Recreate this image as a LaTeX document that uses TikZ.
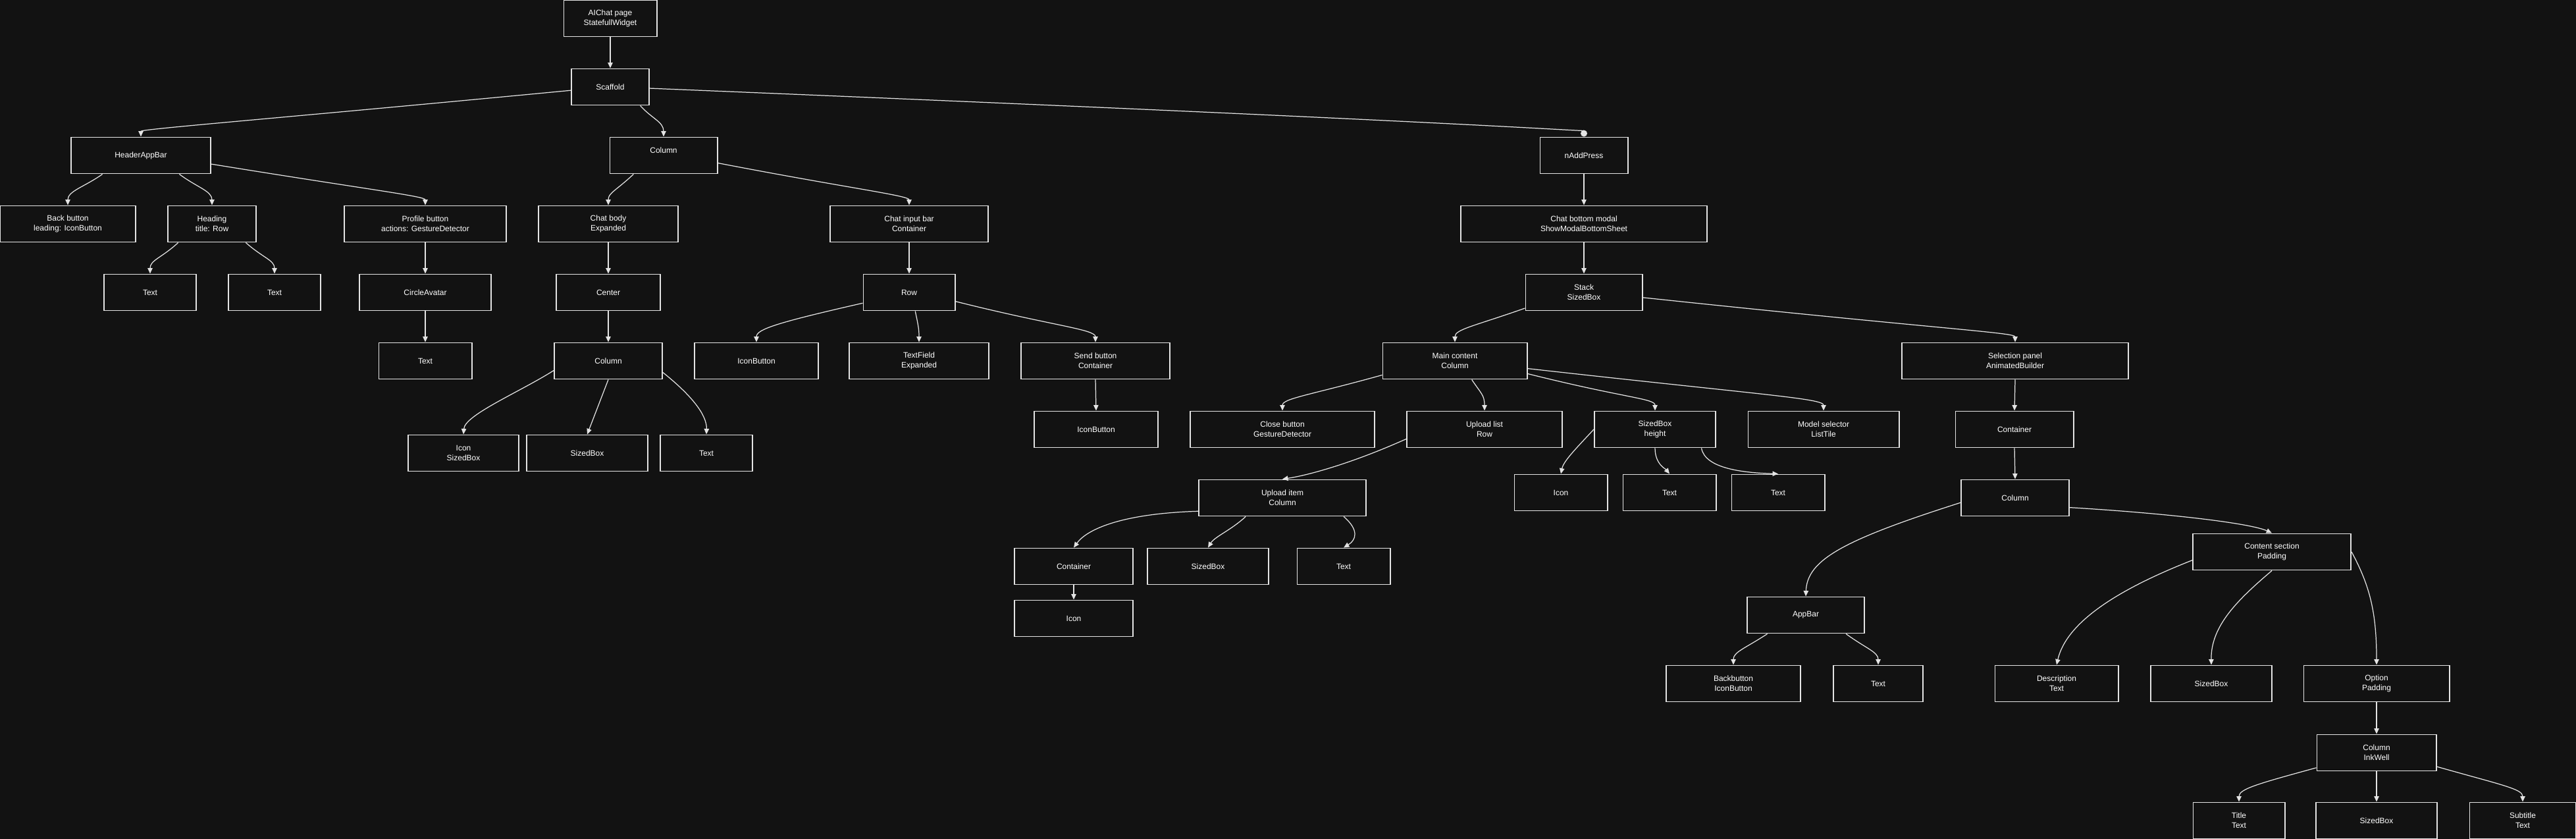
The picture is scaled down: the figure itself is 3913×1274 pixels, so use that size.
\documentclass[tikz,border=0pt]{standalone}
\usepackage{fontspec}
\setmainfont{Liberation Sans}
\usetikzlibrary{arrows.meta}
\definecolor{bgdark}{RGB}{18,18,18}
\definecolor{linegray}{RGB}{228,228,228}

\begin{document}
\begin{tikzpicture}[x=0.01cm, y=-0.01cm,
        widget/.style={draw=linegray, line width=0.55pt, fill=bgdark, text=white, align=center,
            minimum height=0.55cm, inner sep=1pt, font=\fontsize{3.41}{4.18}\selectfont},
        link/.style={draw=linegray, line width=0.35pt, -{Triangle[length=2.4pt,width=2.1pt]}}]
        \fill[bgdark] (0,0) rectangle (3913,1274);
        \useasboundingbox (0,0) rectangle (3913,1274);
        % page and scaffold
        \node[widget, minimum width=1.41cm] (aichat) at (927,28) {AIChat page\\StatefullWidget};
        \node[widget, minimum width=1.18cm] (scaffold) at (927,132) {Scaffold};
        \node[widget, minimum width=2.11cm] (hdr) at (214,236) {HeaderAppBar};
        \node[widget, minimum width=1.63cm] (colmain) at (1008,236) {Column\\\mbox{}};
        \node[widget, minimum width=1.33cm] (naddpress) at (2406,236) {nAddPress};
        % header
        \node[widget, minimum width=2.05cm] (backbtn) at (103,340) {Back button\\leading: IconButton};
        \node[widget, minimum width=1.34cm] (heading) at (322,340) {Heading\\title: Row};
        \node[widget, minimum width=2.45cm] (profile) at (646,340) {Profile button\\actions: GestureDetector};
        \node[widget, minimum width=1.40cm] (headtexta) at (228,444) {Text};
        \node[widget, minimum width=1.40cm] (headtextb) at (417,444) {Text};
        \node[widget, minimum width=1.99cm] (avatar) at (646,444) {CircleAvatar};
        \node[widget, minimum width=1.41cm] (avatartext) at (646,548) {Text};
        % chat body
        \node[widget, minimum width=2.12cm] (chatbody) at (924,340) {Chat body\\Expanded};
        \node[widget, minimum width=1.58cm] (centerbox) at (924,444) {Center};
        \node[widget, minimum width=1.64cm] (bodycol) at (924,548) {Column};
        \node[widget, minimum width=1.67cm] (bodyicon) at (704,688) {Icon\\SizedBox};
        \node[widget, minimum width=1.84cm] (bodygap) at (892,688) {SizedBox};
        \node[widget, minimum width=1.40cm] (bodytext) at (1073,688) {Text};
        % input bar
        \node[widget, minimum width=2.39cm] (chatinput) at (1381,340) {Chat input bar\\Container};
        \node[widget, minimum width=1.39cm] (inputrow) at (1381,444) {Row};
        \node[widget, minimum width=1.88cm] (attachbtn) at (1149,548) {IconButton};
        \node[widget, minimum width=2.11cm] (textfield) at (1396,548) {TextField\\Expanded};
        \node[widget, minimum width=2.26cm] (sendbtn) at (1664,548) {Send button\\Container};
        \node[widget, minimum width=1.88cm] (sendicon) at (1665,652) {IconButton};
        % bottom sheet
        \node[widget, minimum width=3.74cm] (bottommodal) at (2406,340) {Chat bottom modal\\ShowModalBottomSheet};
        \node[widget, minimum width=1.77cm] (stack) at (2406,444) {Stack\\SizedBox};
        \node[widget, minimum width=2.19cm] (maincontent) at (2210,548) {Main content\\Column};
        \node[widget, minimum width=2.80cm] (closebtn) at (1948,652) {Close button\\GestureDetector};
        \node[widget, minimum width=2.36cm] (uploadlist) at (2255,652) {Upload list\\Row};
        \node[widget, minimum width=1.84cm] (sizedheight) at (2514,652) {SizedBox\\height};
        \node[widget, minimum width=2.29cm] (modelsel) at (2770,652) {Model selector\\ListTile};
        \node[widget, minimum width=1.41cm] (sizedicon) at (2371,748) {Icon};
        \node[widget, minimum width=1.41cm] (sizedtexta) at (2536,748) {Text};
        \node[widget, minimum width=1.41cm] (sizedtextb) at (2701,748) {Text};
        \node[widget, minimum width=2.54cm] (uploaditem) at (1948,756) {Upload item\\Column};
        \node[widget, minimum width=1.80cm] (itembox) at (1631,860) {Container};
        \node[widget, minimum width=1.84cm] (itemgap) at (1835,860) {SizedBox};
        \node[widget, minimum width=1.41cm] (itemtext) at (2041,860) {Text};
        \node[widget, minimum width=1.80cm] (itemicon) at (1631,939) {Icon};
        % selection panel
        \node[widget, minimum width=3.43cm] (selpanel) at (3061,548) {Selection panel\\AnimatedBuilder};
        \node[widget, minimum width=1.79cm] (panelbox) at (3060,652) {Container};
        \node[widget, minimum width=1.64cm] (panelcol) at (3061,756) {Column};
        \node[widget, minimum width=2.40cm] (contentsec) at (3451,838) {Content section\\Padding};
        \node[widget, minimum width=1.78cm] (panelbar) at (2743,934) {AppBar};
        \node[widget, minimum width=2.04cm] (barback) at (2633,1038) {Backbutton\\IconButton};
        \node[widget, minimum width=1.36cm] (bartext) at (2853,1038) {Text};
        \node[widget, minimum width=1.87cm] (description) at (3124,1038) {Description\\Text};
        \node[widget, minimum width=1.84cm] (contentgap) at (3359,1038) {SizedBox};
        \node[widget, minimum width=2.21cm] (option) at (3610,1038) {Option\\Padding};
        \node[widget, minimum width=1.81cm] (optioncol) at (3610,1143) {Column\\InkWell};
        \node[widget, minimum width=1.39cm] (optiontitle) at (3401,1246) {Title\\Text};
        \node[widget, minimum width=1.84cm] (optiongap) at (3610,1246) {SizedBox};
        \node[widget, minimum width=1.61cm] (optionsub) at (3832,1246) {Subtitle\\Text};
        % straight links
        \foreach \a/\b in {aichat/scaffold, profile/avatar, avatar/avatartext, chatbody/centerbox,
                centerbox/bodycol, bodycol/bodygap, chatinput/inputrow, sendbtn/sendicon,
                naddpress/bottommodal, bottommodal/stack, selpanel/panelbox, panelbox/panelcol,
                itembox/itemicon, option/optioncol, optioncol/optiongap}
            \draw[link] (\a.south) -- (\b.north);
        % curved links
        \draw[link] (scaffold.185) .. controls (420,180) and (214,196) .. (hdr.north);
        \draw[link] (scaffold.-32) .. controls (990,180) and (1008,185) .. (colmain.north);
        \draw[link, -{Circle[length=2.8pt]}] (scaffold.-2) .. controls (2250,186) and (2406,200) .. (naddpress.north);
        \draw[link] (hdr.-154) .. controls (128,284) and (103,290) .. (backbtn.north);
        \draw[link] (hdr.-26) .. controls (300,285) and (322,290) .. (heading.north);
        \draw[link] (hdr.-7) .. controls (560,288) and (646,298) .. (profile.north);
        \draw[link] (heading.-151) .. controls (245,392) and (228,395) .. (headtexta.north);
        \draw[link] (heading.-29) .. controls (400,392) and (417,395) .. (headtextb.north);
        \draw[link] (colmain.-148) .. controls (935,290) and (924,293) .. (chatbody.north);
        \draw[link] (colmain.-8) .. controls (1290,286) and (1381,297) .. (chatinput.north);
        \draw[link] (bodycol.190) .. controls (790,595) and (706,630) .. (bodyicon.north);
        \draw[link] (bodycol.-12) .. controls (1050,600) and (1074,630) .. (bodytext.north);
        \draw[link] (inputrow.193) .. controls (1180,490) and (1149,500) .. (attachbtn.north);
        \draw[link] (inputrow.-72) .. controls (1395,495) and (1396,500) .. (textfield.north);
        \draw[link] (inputrow.-11) .. controls (1600,495) and (1664,500) .. (sendbtn.north);
        \draw[link] (stack.195) .. controls (2240,495) and (2210,500) .. (maincontent.north);
        \draw[link] (stack.-5) .. controls (2950,500) and (3061,505) .. (selpanel.north);
        \draw[link] (maincontent.191) .. controls (1990,600) and (1948,605) .. (closebtn.north);
        \draw[link] (maincontent.-48) .. controls (2250,598) and (2255,600) .. (uploadlist.north);
        \draw[link] (maincontent.-10) .. controls (2470,605) and (2514,605) .. (sizedheight.north);
        \draw[link] (maincontent.-6) .. controls (2680,600) and (2770,605) .. (modelsel.north);
        \draw[link] (uploadlist.187) .. controls (2050,705) and (1985,722) .. (uploaditem.north);
        \draw[link] (sizedheight.180) .. controls (2395,680) and (2375,700) .. (sizedicon.north);
        \draw[link] (sizedheight.south) .. controls (2514,705) and (2530,712) .. (sizedtexta.north);
        \draw[link] (sizedheight.-22) .. controls (2590,712) and (2650,718) .. (sizedtextb.north);
        \draw[link] (uploaditem.189) .. controls (1700,780) and (1650,805) .. (itembox.north);
        \draw[link] (uploaditem.-153) .. controls (1870,805) and (1845,815) .. (itemgap.north);
        \draw[link] (uploaditem.-17) .. controls (2065,805) and (2060,820) .. (itemtext.north);
        \draw[link] (panelcol.185) .. controls (2800,820) and (2745,850) .. (panelbar.north);
        \draw[link] (panelcol.-10) .. controls (3300,780) and (3420,795) .. (contentsec.north);
        \draw[link] (panelbar.-154) .. controls (2650,985) and (2633,990) .. (barback.north);
        \draw[link] (panelbar.-25) .. controls (2835,985) and (2853,990) .. (bartext.north);
        \draw[link] (contentsec.186) .. controls (3230,890) and (3140,940) .. (description.north);
        \draw[link] (contentsec.south) .. controls (3400,910) and (3358,950) .. (contentgap.north);
        \draw[link] (contentsec.east) .. controls (3600,890) and (3610,930) .. (option.north);
        \draw[link] (optioncol.194) .. controls (3430,1190) and (3401,1198) .. (optiontitle.north);
        \draw[link] (optioncol.-13) .. controls (3800,1192) and (3832,1198) .. (optionsub.north);
    \end{tikzpicture}
\end{document}
